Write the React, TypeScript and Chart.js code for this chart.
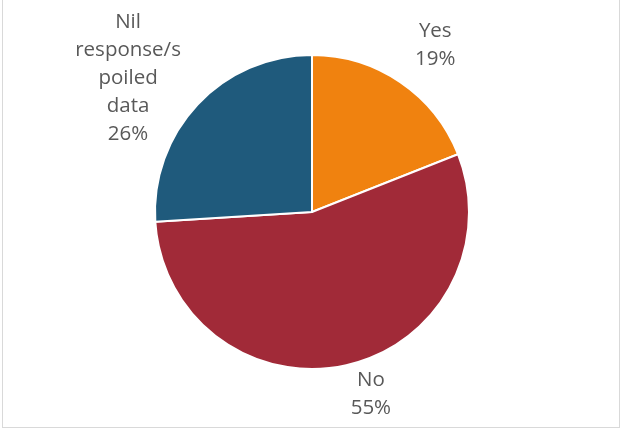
import React, { useEffect, useRef } from "react";
import { Chart, registerables } from "chart.js";

Chart.register(...registerables);

const categories = ["Yes", "No", "Nil response/s poiled data"];
const values = [19, 55, 26];
const labelLines = [["Yes", "19%"], ["No", "55%"], ["Nil", "response/s", "poiled", "data", "26%"]];
const colors = ["#F0820F", "#A12A38", "#1F5A7C"];
// label layout: distance from centre (in radii) and angle shift (degrees)
const labelDist = [1.32, 1.22, 1.45];
const labelShift = [2.3, -5.3, -7.1];

const outsideLabels = {
  id: "outsideLabels",
  afterDatasetsDraw(chart: any) {
    const ctx = chart.ctx;
    const meta = chart.getDatasetMeta(0);
    ctx.save();
    ctx.font = "20.5px 'Open Sans', sans-serif";
    ctx.fillStyle = "#595959";
    ctx.textAlign = "center";
    ctx.textBaseline = "middle";
    const lh = 28;
    meta.data.forEach((arc: any, i: number) => {
      const p = arc.getProps(["x", "y", "startAngle", "endAngle", "outerRadius"], true);
      const mid = (p.startAngle + p.endAngle) / 2 + (labelShift[i] * Math.PI) / 180;
      const r = p.outerRadius * labelDist[i];
      const cx = p.x + Math.cos(mid) * r;
      const cy = p.y + Math.sin(mid) * r;
      const lines = labelLines[i];
      const top = cy - ((lines.length - 1) * lh) / 2;
      lines.forEach((t, j) => ctx.fillText(t, cx, top + j * lh));
    });
    ctx.restore();
  },
};

export default function App() {
  const ref = useRef<HTMLCanvasElement>(null);
  useEffect(() => {
    const chart = new Chart(ref.current!, {
      type: "pie",
      data: {
        labels: categories,
        datasets: [
          {
            data: values,
            backgroundColor: colors,
            borderColor: "#ffffff",
            borderWidth: 2,
          },
        ],
      },
      options: {
        animation: false,
        responsive: false,
        layout: { padding: { left: 154, right: 151, top: 54, bottom: 59 } },
        plugins: { legend: { display: false }, tooltip: { enabled: false } },
      },
      plugins: [outsideLabels],
    });
    return () => chart.destroy();
  }, []);
  return (
    <div style={{ position: "fixed", left: 0, top: 0, width: 621, height: 429, background: "#fff", overflow: "hidden" }}>
      <div
        style={{
          position: "absolute",
          left: 2,
          top: -5,
          width: 616,
          height: 431,
          border: "1px solid #d9d9d9",
        }}
      />
      <canvas ref={ref} width={621} height={429} style={{ position: "absolute", left: 0, top: 0 }} />
    </div>
  );
}
